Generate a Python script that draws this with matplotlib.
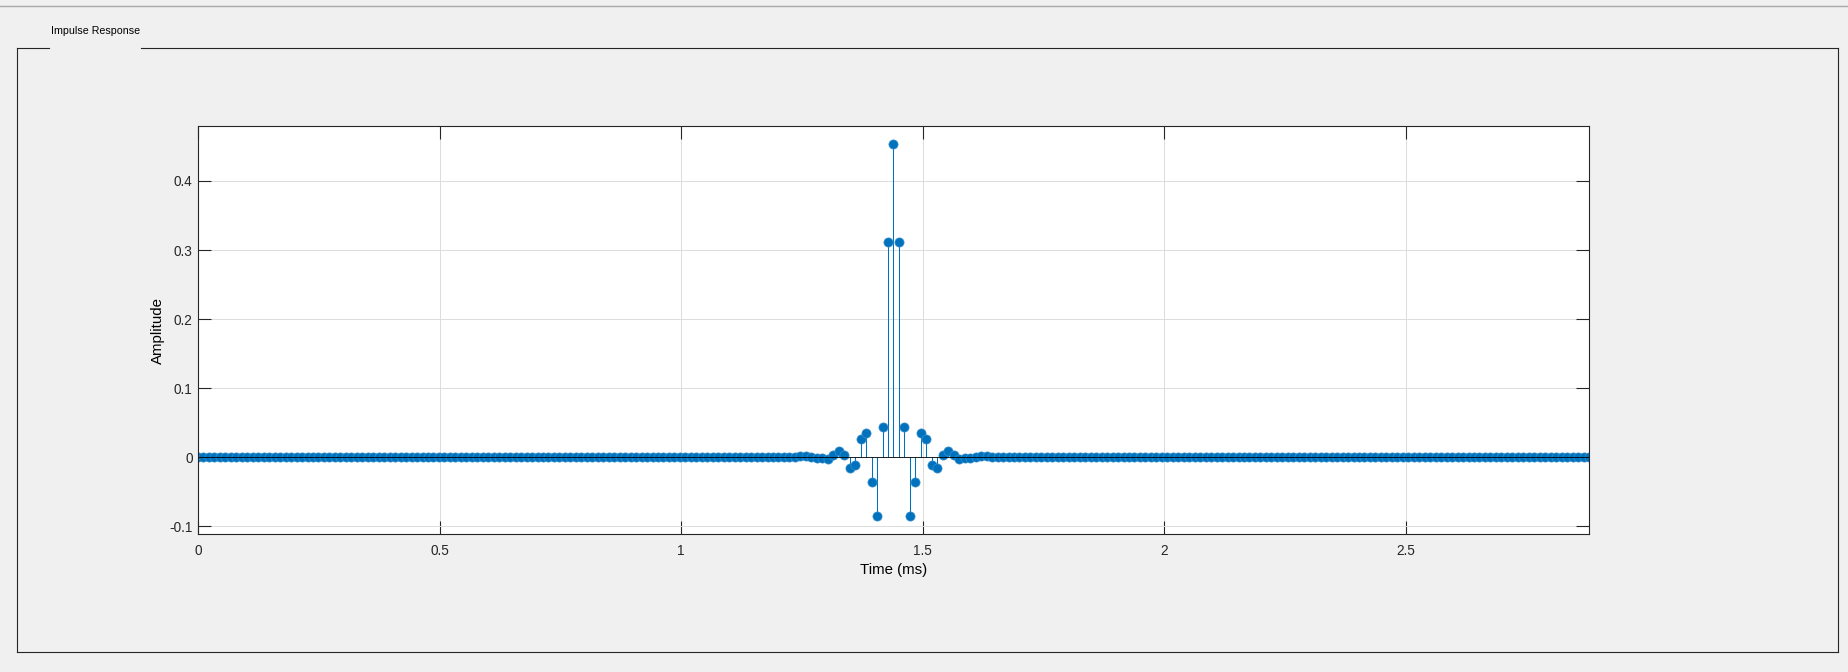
import numpy as np
from matplotlib import pyplot as plt
from matplotlib.lines import Line2D

plt.rcParams['font.family'] = ['Liberation Sans', 'DejaVu Sans']

# sample rate (kHz) and filter length
FS_KHZ = 88.2
N_TAPS = 255
CENTER = 127

# half of the symmetric impulse response, from the centre tap outwards
half_taps = [0.4536, 0.3111, 0.0444, -0.0855, -0.0353, 0.0353, 0.0261,
             -0.0116, -0.0150, 0.0035, 0.0090, 0.0030, -0.0022, -0.0015,
             -0.0010, 0.0005, 0.0020, 0.0025, 0.0010, 0.0]

x_ticks = [0, 0.5, 1, 1.5, 2, 2.5]
x_ticklabels = ['0', '0.5', '1', '1.5', '2', '2.5']
y_ticks = [-0.1, 0, 0.1, 0.2, 0.3, 0.4]
y_ticklabels = ['-0.1', '0', '0.1', '0.2', '0.3', '0.4']

BLUE = '#0072BD'
DARK = '#262626'
BG = '#F0F0F0'

n = np.arange(N_TAPS)
t = n / FS_KHZ
h = np.zeros(N_TAPS)
for k, v in enumerate(half_taps):
    h[CENTER + k] = v
    h[CENTER - k] = v

W, H = 1848, 672
fig = plt.figure(figsize=(W / 100, H / 100), dpi=100, facecolor=BG)

# top strip line and the tab panel frame (pixel coords -> figure fraction)
def px_line(x0, y0, x1, y1, color, lw):
    fig.add_artist(Line2D([x0 / W, x1 / W], [1 - y0 / H, 1 - y1 / H],
                          transform=fig.transFigure, color=color, lw=lw))

px_line(0, 6, W, 6, '#A8A8A8', 1.0)
px_line(16.5, 47.5, 49, 47.5, DARK, 0.8)
px_line(141, 47.5, 1837.5, 47.5, DARK, 0.8)
px_line(16.5, 47.5, 16.5, 652, DARK, 0.8)
px_line(16.5, 652, 1837.5, 652, DARK, 0.8)
px_line(1837.5, 47.5, 1837.5, 652, DARK, 0.8)
fig.text(51 / W, 1 - 31 / H, 'Impulse Response', fontsize=7.7,
         color='#000000', ha='left', va='center')

ax = fig.add_axes([198 / W, 1 - 534 / H, (1589 - 198) / W, (534 - 126) / H])
ax.set_facecolor('white')

markers, stems, base = ax.stem(t, h)
plt.setp(stems, color=BLUE, linewidth=0.75)
plt.setp(markers, color=BLUE, markersize=6.6, markeredgewidth=0.5,
         markeredgecolor='#3a8fcc')
plt.setp(base, color='black', linewidth=0.6)
base.set_xdata([0, t[-1]])

ax.set_xlim(0, t[-1])
ax.set_ylim(-0.111, 0.4796)
ax.set_xticks(x_ticks)
ax.set_xticklabels(x_ticklabels)
ax.set_yticks(y_ticks)
ax.set_yticklabels(y_ticklabels)

ax.grid(True, color='#DCDCDC', linewidth=0.7)
ax.set_axisbelow(True)
for s in ax.spines.values():
    s.set_color(DARK)
    s.set_linewidth(0.8)

ax.tick_params(axis='both', direction='in', length=9.4, width=0.8,
               color=DARK, labelcolor=DARK, labelsize=9.8,
               top=True, right=True)
ax.tick_params(axis='x', pad=7)
ax.tick_params(axis='y', pad=3.8)

ax.set_xlabel('Time (ms)', fontsize=10.8, color='#000000')
ax.set_ylabel('Amplitude', fontsize=10.8, color='#000000')
ax.xaxis.set_label_coords(0.5, -0.07)
ax.yaxis.set_label_coords(-0.0237, 0.5)

fig.savefig('out.png', dpi=100, facecolor=BG)
